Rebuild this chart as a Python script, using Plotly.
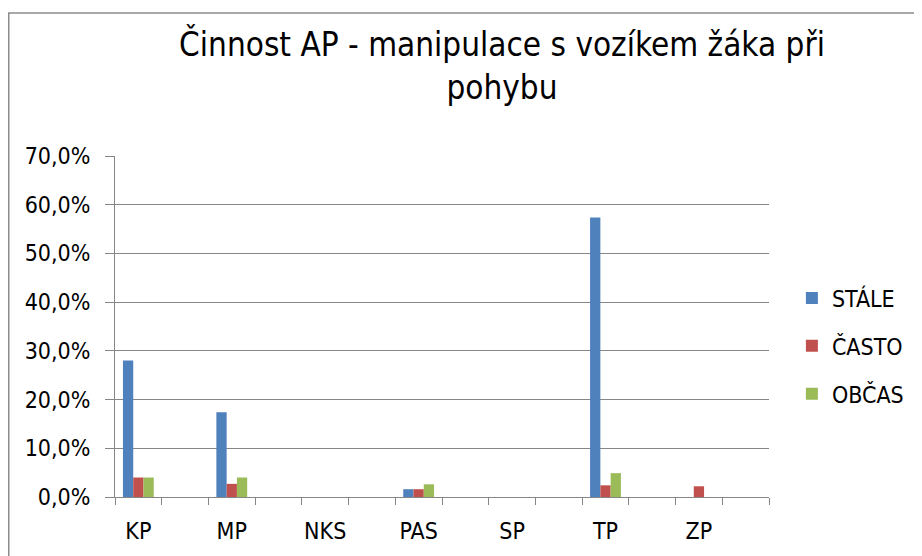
import plotly.graph_objects as go

categories = ["KP", "MP", "NKS", "PAS", "SP", "TP", "ZP"]
stale = [28.0, 17.4, 0.0, 1.6, 0.0, 57.4, 0.0]
casto = [4.0, 2.7, 0.0, 1.6, 0.0, 2.4, 2.2]
obcas = [4.0, 4.0, 0.0, 2.6, 0.0, 4.9, 0.0]
series_names = ["STÁLE", "ČASTO", "OBČAS"]
colors = ["#4F81BD", "#C0504D", "#9BBB59"]
y_ticks = [0, 10, 20, 30, 40, 50, 60, 70]
y_ticktext = [f"{v:.1f}%".replace(".", ",") for v in y_ticks]

FONT = "DejaVu Sans Condensed, sans-serif"
GRAY = "#868686"

# figure is displayed with an 8px page margin, so it is sized 914x548
W, H = 914, 548
PL, PT, PR, PB = 107, 148, 761, 489  # plot area in figure pixels
PW, PH = PR - PL, PB - PT

xpos = [2 * i for i in range(len(categories))]
bw = 0.22
offsets = [-0.33, -0.11, 0.11]

fig = go.Figure()
for name, vals, col, off in zip(series_names, [stale, casto, obcas], colors, offsets):
    fig.add_trace(go.Bar(
        x=xpos, y=vals, name=name, marker=dict(color=col, line=dict(width=0)),
        width=bw, offset=off, legendgroup=name,
    ))

fig.update_layout(
    width=W, height=H,
    barmode="overlay",
    paper_bgcolor="white", plot_bgcolor="white",
    margin=dict(l=PL, r=W - PR, t=PT, b=H - PB, autoexpand=False),
    font=dict(family=FONT, size=23, color="#000000"),
    title=dict(
        text="Činnost AP - manipulace s vozíkem žáka při<br>pohybu",
        x=494 / W, xanchor="center", y=0.912, yanchor="middle",
        font=dict(family=FONT, size=33, color="#000000"),
    ),
    legend=dict(
        x=1.035, xanchor="left", y=0.443, yanchor="middle",
        font=dict(size=23), tracegroupgap=15, traceorder="grouped",
        bgcolor="rgba(0,0,0,0)",
    ),
    showlegend=True,
)

fig.update_xaxes(
    range=[-0.5, 13.5], tickmode="array", tickvals=xpos, ticktext=categories,
    ticks="", showgrid=False, showline=True, linecolor=GRAY, linewidth=1,
    zeroline=False, ticklabelstandoff=13,
    minor=dict(tickmode="linear", tick0=-0.5, dtick=1, ticks="outside",
               ticklen=7, tickcolor=GRAY, tickwidth=1, showgrid=False),
)
fig.update_yaxes(
    range=[0, 70], tickmode="array", tickvals=y_ticks, ticktext=y_ticktext,
    showgrid=True, gridcolor=GRAY, gridwidth=1, showline=True, linecolor=GRAY,
    linewidth=1, zeroline=False, ticks="outside", ticklen=9, tickcolor=GRAY,
    ticklabelstandoff=10,
)

# chart border (top and left visible)
fig.add_shape(type="rect", xref="paper", yref="paper",
              x0=(0.75 - PL) / PW, x1=1.6, y0=-0.6, y1=(PB - 5) / PH,
              line=dict(color="#8C8C8C", width=1.5), fillcolor="rgba(0,0,0,0)", layer="below")

fig.write_html("out.html")
